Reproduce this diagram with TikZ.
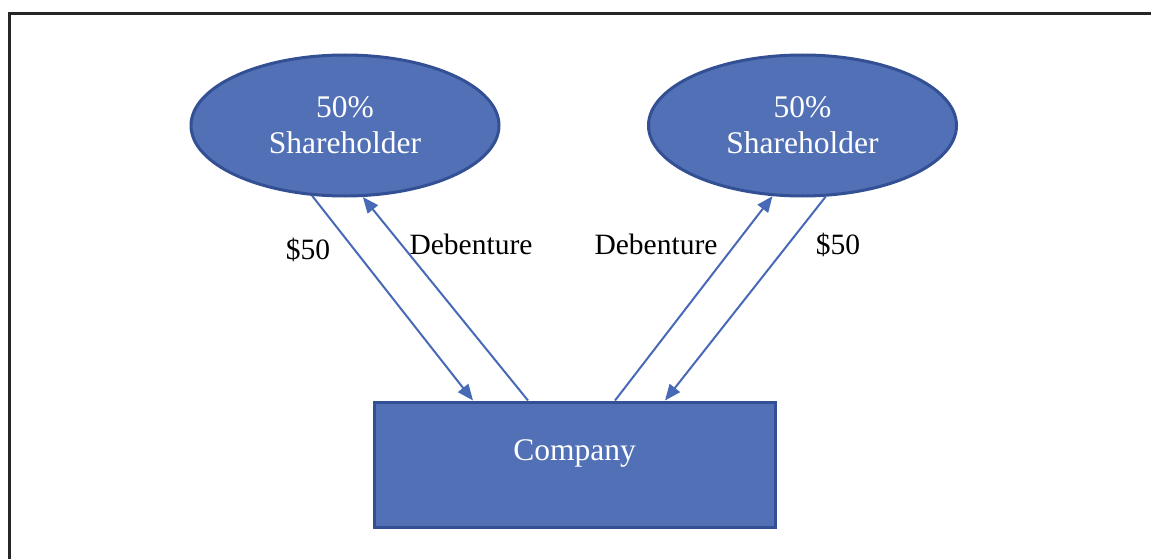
\documentclass[tikz,border=0pt]{standalone}
\usepackage{fontspec}
\setmainfont{Liberation Serif}
\usetikzlibrary{shapes.geometric,arrows.meta,calc}
\definecolor{boxfill}{RGB}{82,112,182}
\definecolor{boxline}{RGB}{52,80,148}
\definecolor{arrowcol}{RGB}{72,106,182}
\tikzset{
  holder/.style={ellipse, draw=boxline, fill=boxfill, line width=3pt, inner sep=0pt,
    minimum width=308pt, minimum height=141pt, text=white, align=center,
    font=\fontsize{31.5}{36}\selectfont},
  company/.style={rectangle, draw=boxline, fill=boxfill, line width=3pt, inner sep=0pt,
    minimum width=401pt, minimum height=125pt},
  whitetext/.style={text=white, font=\fontsize{31.5}{36}\selectfont, inner sep=0pt},
  flowlabel/.style={text=black, font=\fontsize{29.5}{34}\selectfont, inner sep=0pt},
  flow/.style={draw=arrowcol, line width=2pt, -{Triangle[length=16pt,width=13pt]}},
  frameline/.style={draw=black!85, line width=3pt}
}
\begin{document}
\begin{tikzpicture}[x=1pt,y=-1pt]
\useasboundingbox (0,0) rectangle (1151,559);
\fill[white] (0,0) rectangle (1151,559);
\draw[frameline] (9,565) -- (9,14) -- (1160,14);

\node[holder] (L) at (345,125.5) {50\%\\Shareholder};
\node[holder] (R) at (802.5,125.5) {50\%\\Shareholder};
\node[company] (C) at (574.5,464.5) {};
\node[whitetext] (Ct) at (574.5,453) {Company};

\draw[flow] (L.245) -- ($(C.north)+(-101.5,0)$);
\draw[flow] ($(C.north)+(-46.5,0)$) -- (L.-76);
\draw[flow] ($(C.north)+(40.5,0)$) -- (R.-113.5);
\draw[flow] (R.-72.4) -- ($(C.north)+(90.5,0)$);

\node[flowlabel] (l1) at (308,250) {\$50};
\node[flowlabel] (l2) at (471,244) {Debenture};
\node[flowlabel] (l3) at (656,244) {Debenture};
\node[flowlabel] (l4) at (838,245) {\$50};
\end{tikzpicture}
\end{document}
